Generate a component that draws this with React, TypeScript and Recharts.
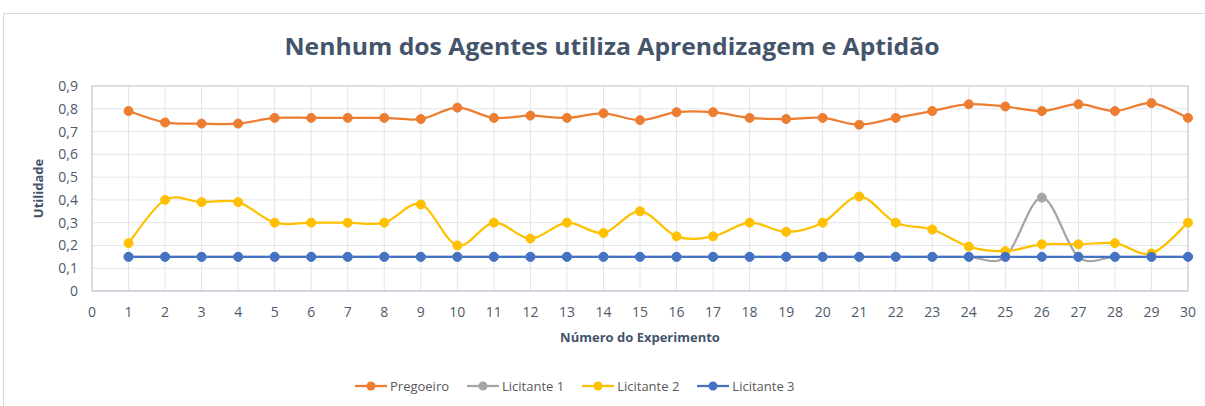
import React from 'react'
import {
  LineChart,
  Line,
  XAxis,
  YAxis,
  CartesianGrid,
  ReferenceArea,
} from 'recharts'

// Experiment numbers (x axis)
const EXPERIMENTS = [
  1, 2, 3, 4, 5, 6, 7, 8, 9, 10, 11, 12, 13, 14, 15,
  16, 17, 18, 19, 20, 21, 22, 23, 24, 25, 26, 27, 28, 29, 30,
]

// Utility per agent
const PREGOEIRO = [
  0.79, 0.74, 0.735, 0.735, 0.76, 0.76, 0.76, 0.76, 0.755, 0.805,
  0.76, 0.77, 0.76, 0.78, 0.75, 0.785, 0.785, 0.76, 0.755, 0.76,
  0.73, 0.76, 0.79, 0.82, 0.81, 0.79, 0.82, 0.79, 0.825, 0.76,
]
const LICITANTE_1 = [
  0.15, 0.15, 0.15, 0.15, 0.15, 0.15, 0.15, 0.15, 0.15, 0.15,
  0.15, 0.15, 0.15, 0.15, 0.15, 0.15, 0.15, 0.15, 0.15, 0.15,
  0.15, 0.15, 0.15, 0.15, 0.15, 0.41, 0.15, 0.15, 0.15, 0.15,
]
const LICITANTE_2 = [
  0.21, 0.4, 0.39, 0.39, 0.3, 0.3, 0.3, 0.3, 0.38, 0.2,
  0.3, 0.23, 0.3, 0.255, 0.35, 0.24, 0.24, 0.3, 0.26, 0.3,
  0.415, 0.3, 0.27, 0.195, 0.175, 0.205, 0.205, 0.21, 0.165, 0.3,
]
const LICITANTE_3 = [
  0.15, 0.15, 0.15, 0.15, 0.15, 0.15, 0.15, 0.15, 0.15, 0.15,
  0.15, 0.15, 0.15, 0.15, 0.15, 0.15, 0.15, 0.15, 0.15, 0.15,
  0.15, 0.15, 0.15, 0.15, 0.15, 0.15, 0.15, 0.15, 0.15, 0.15,
]

const X_TICKS = [
  0, 1, 2, 3, 4, 5, 6, 7, 8, 9, 10, 11, 12, 13, 14, 15,
  16, 17, 18, 19, 20, 21, 22, 23, 24, 25, 26, 27, 28, 29, 30,
]
const Y_TICKS = [0, 0.1, 0.2, 0.3, 0.4, 0.5, 0.6, 0.7, 0.8, 0.9]

const SERIES = [
  { key: 'pregoeiro', name: 'Pregoeiro', color: '#ED7D31', values: PREGOEIRO },
  { key: 'l1', name: 'Licitante 1', color: '#A5A5A5', values: LICITANTE_1 },
  { key: 'l2', name: 'Licitante 2', color: '#FFC000', values: LICITANTE_2 },
  { key: 'l3', name: 'Licitante 3', color: '#4472C4', values: LICITANTE_3 },
]

const data = EXPERIMENTS.map((x, i) => {
  const row: Record<string, number> = { x }
  SERIES.forEach((s) => {
    row[s.key] = s.values[i]
  })
  return row
})

const FONT = '"Open Sans", sans-serif'
const TEXT = '#44546A'
const TICK = '#4E5A6C'

// Excel-like smoothing (Catmull-Rom through every point, may overshoot)
function excelSmooth(context: any) {
  let pts: [number, number][] = []
  return {
    areaStart() {},
    areaEnd() {},
    lineStart() {
      pts = []
    },
    lineEnd() {
      if (!pts.length) return
      context.moveTo(pts[0][0], pts[0][1])
      for (let i = 0; i < pts.length - 1; i++) {
        const p0 = pts[i - 1] ?? pts[i]
        const p1 = pts[i]
        const p2 = pts[i + 1]
        const p3 = pts[i + 2] ?? pts[i + 1]
        context.bezierCurveTo(
          p1[0] + (p2[0] - p0[0]) / 6,
          p1[1] + (p2[1] - p0[1]) / 6,
          p2[0] - (p3[0] - p1[0]) / 6,
          p2[1] - (p3[1] - p1[1]) / 6,
          p2[0],
          p2[1],
        )
      }
    },
    point(x: number, y: number) {
      pts.push([+x, +y])
    },
  }
}

const fmt = (v: number) => String(Math.round(v * 10) / 10).replace('.', ',')

export default function App() {
  return (
    <div
      style={{
        position: 'absolute',
        left: 0,
        top: 0,
        width: 1205,
        height: 406,
        background: '#fff',
        overflow: 'hidden',
        fontFamily: FONT,
      }}
    >
      {/* chart frame */}
      <div
        style={{
          position: 'absolute',
          left: 3,
          top: 13,
          width: 1220,
          height: 420,
          border: '1px solid #D9D9D9',
        }}
      />

      <svg width={1205} height={80} style={{ position: 'absolute', left: 0, top: 0 }}>
        <text
          x={612}
          y={55}
          textAnchor="middle"
          textLength={655}
          lengthAdjust="spacingAndGlyphs"
          style={{ fontFamily: FONT, fontSize: 24, fontWeight: 700, fill: TEXT }}
        >
          Nenhum dos Agentes utiliza Aprendizagem e Aptidão
        </text>
      </svg>

      <div style={{ position: 'absolute', left: 0, top: 0 }}>
        <LineChart
          width={1205}
          height={406}
          data={data}
          margin={{ top: 86, right: 17, bottom: 55, left: 0 }}
        >
          <CartesianGrid stroke="#E1E5EB" strokeWidth={1} />
          <ReferenceArea
            x1={0}
            x2={30}
            y1={0}
            y2={0.9}
            fill="none"
            stroke="#C4C8CE"
            strokeWidth={1}
            ifOverflow="visible"
          />
          <XAxis
            dataKey="x"
            type="number"
            domain={[0, 30]}
            ticks={X_TICKS}
            interval={0}
            height={60}
            tickLine={false}
            tickMargin={10}
            axisLine={{ stroke: '#CDD3DC', strokeWidth: 1.5 }}
            tick={{ fill: TICK, fontSize: 14, fontFamily: FONT }}
            label={{
              value: 'Número do Experimento',
              position: 'insideBottom',
              offset: 9,
              style: { fill: TEXT, fontSize: 13, fontWeight: 700, fontFamily: FONT },
            }}
          />
          <YAxis
            type="number"
            domain={[0, 0.9]}
            ticks={Y_TICKS}
            interval={0}
            width={92}
            tickLine={false}
            tickMargin={8}
            axisLine={false}
            tickFormatter={fmt}
            tick={{ fill: TICK, fontSize: 14, fontFamily: FONT }}
            label={{
              value: 'Utilidade',
              angle: -90,
              position: 'insideLeft',
              offset: 38,
              style: { fill: TEXT, fontSize: 13, fontWeight: 700, fontFamily: FONT, textAnchor: 'middle' },
            }}
          />
          {SERIES.map((s) => (
            <Line
              key={s.key}
              dataKey={s.key}
              name={s.name}
              type={excelSmooth as any}
              stroke={s.color}
              strokeWidth={2.25}
              dot={{ r: 4.5, fill: s.color, stroke: s.color, strokeWidth: 1 }}
              activeDot={false}
              isAnimationActive={false}
            />
          ))}
        </LineChart>
      </div>

      {/* legend */}
      <div
        style={{
          position: 'absolute',
          left: 355,
          top: 377,
          display: 'flex',
          gap: 18,
          alignItems: 'center',
          fontSize: 13,
          color: '#595959',
        }}
      >
        {SERIES.map((s) => (
          <div key={s.key} style={{ display: 'flex', alignItems: 'center', gap: 3 }}>
            <svg width={32} height={18}>
              <line x1={0} y1={9} x2={32} y2={9} stroke={s.color} strokeWidth={2.25} />
              <circle cx={16} cy={9} r={4.5} fill={s.color} />
            </svg>
            <span>{s.name}</span>
          </div>
        ))}
      </div>
    </div>
  )
}
